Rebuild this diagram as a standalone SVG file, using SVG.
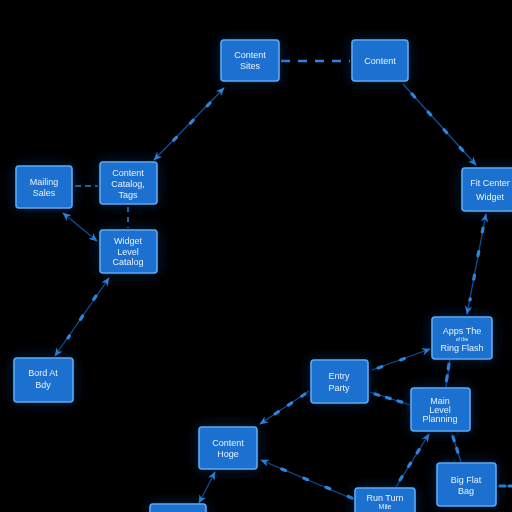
<svg xmlns="http://www.w3.org/2000/svg" width="512" height="512" viewBox="0 0 512 512">
<defs>
<filter id="glow" x="-50%" y="-50%" width="200%" height="200%">
<feGaussianBlur in="SourceAlpha" stdDeviation="7" result="b"/>
<feFlood flood-color="#0a3a80" flood-opacity="0.55"/>
<feComposite in2="b" operator="in" result="g"/>
<feMerge><feMergeNode in="g"/><feMergeNode in="SourceGraphic"/></feMerge>
</filter>
<marker id="ah" viewBox="0 0 10 10" refX="9" refY="5" markerWidth="9" markerHeight="9" markerUnits="userSpaceOnUse" orient="auto-start-reverse">
<path d="M0,1 L10,5 L0,9 L3,5 Z" fill="#2a86df"/>
</marker>
<style>
.n rect{fill:#1a6fd0;stroke:#5aaaf2;stroke-width:1.6}
.n text{fill:#eaf3ff;font-family:"Liberation Sans",Arial,sans-serif;font-size:9px;text-anchor:middle}
.n text.s{font-size:5px}
.c line.b{stroke:#0e4f96;stroke-width:1.3}
.c line.d{stroke:#2a86df;stroke-width:3.2;stroke-linecap:round;stroke-dasharray:4 20}
.c line.h{stroke:#2a86df;stroke-width:2.6;stroke-dasharray:9 8}
</style>
</defs>
<rect width="512" height="512" fill="#000"/>

<g id="connectors" class="c">
<line class="h" x1="281" y1="61" x2="350" y2="61"/>
<line class="b" x1="224" y1="88" x2="154" y2="160" marker-start="url(#ah)" marker-end="url(#ah)"/>
<line class="d" x1="210" y1="103" x2="168" y2="146"/>
<line class="b" x1="403" y1="84" x2="476" y2="165" marker-end="url(#ah)"/>
<line class="d" x1="412" y1="94" x2="465" y2="153"/>
<line class="h" x1="75" y1="186" x2="98" y2="186" style="stroke-dasharray:6 4;stroke-width:1.6"/>
<line class="h" x1="128" y1="207" x2="128" y2="228" style="stroke-dasharray:5 5;stroke-width:1.6"/>
<line class="b" x1="97" y1="241" x2="63" y2="213" marker-start="url(#ah)" marker-end="url(#ah)"/>
<line class="b" x1="109" y1="278" x2="55" y2="356" marker-start="url(#ah)" marker-end="url(#ah)"/>
<line class="d" x1="96" y1="296" x2="68" y2="338"/>
<line class="b" x1="486" y1="214" x2="467" y2="314" marker-start="url(#ah)" marker-end="url(#ah)"/>
<line class="d" x1="483" y1="228" x2="470" y2="300"/>
<line class="b" x1="372" y1="370" x2="430" y2="349" marker-end="url(#ah)"/>
<line class="d" x1="378" y1="368" x2="420" y2="353"/>
<line class="b" x1="370" y1="392" x2="410" y2="405"/>
<line class="d" x1="375" y1="394" x2="408" y2="404" style="stroke-dasharray:4 8"/>
<line class="b" x1="450" y1="360" x2="446" y2="387"/>
<line class="d" x1="449" y1="364" x2="446" y2="384" style="stroke-dasharray:5 7"/>
<line class="b" x1="309" y1="391" x2="260" y2="424" marker-end="url(#ah)"/>
<line class="d" x1="305" y1="394" x2="272" y2="416" style="stroke-dasharray:4 12"/>
<line class="b" x1="355" y1="500" x2="261" y2="460" marker-end="url(#ah)"/>
<line class="d" x1="352" y1="498" x2="272" y2="465"/>
<line class="b" x1="215" y1="472" x2="199" y2="503" marker-start="url(#ah)" marker-end="url(#ah)"/>
<line class="b" x1="396" y1="487" x2="429" y2="434" marker-end="url(#ah)"/>
<line class="d" x1="400" y1="480" x2="424" y2="442" style="stroke-dasharray:4 12"/>
<line class="b" x1="452" y1="434" x2="461" y2="462"/>
<line class="d" x1="453" y1="437" x2="460" y2="459" style="stroke-dasharray:4 8"/>
<line class="d" x1="500" y1="486" x2="512" y2="486" style="stroke-dasharray:5 4"/>
</g>

<g id="n1" class="n" filter="url(#glow)"><rect x="221" y="40" width="58" height="41" rx="3"/><text x="250" y="58">Content</text><text x="250" y="69">Sites</text></g>
<g id="n2" class="n" filter="url(#glow)"><rect x="352" y="40" width="56" height="41" rx="3"/><text x="380" y="64">Content</text></g>
<g id="n3" class="n" filter="url(#glow)"><rect x="16" y="166" width="56" height="42" rx="3"/><text x="44" y="185">Mailing</text><text x="44" y="196">Sales</text></g>
<g id="n4" class="n" filter="url(#glow)"><rect x="100" y="162" width="57" height="42" rx="3"/><text x="128" y="176">Content</text><text x="128" y="187">Catalog,</text><text x="128" y="198">Tags</text></g>
<g id="n5" class="n" filter="url(#glow)"><rect x="100" y="230" width="57" height="43" rx="3"/><text x="128" y="244">Widget</text><text x="128" y="255">Level</text><text x="128" y="265">Catalog</text></g>
<g id="n6" class="n" filter="url(#glow)"><rect x="462" y="168" width="56" height="43" rx="3"/><text x="490" y="186">Fit Center</text><text x="490" y="200">Widget</text></g>
<g id="n7" class="n" filter="url(#glow)"><rect x="432" y="317" width="60" height="42" rx="3"/><text x="462" y="334">Apps The</text><text class="s" x="462" y="341">of the</text><text x="462" y="351">Ring Flash</text></g>
<g id="n8" class="n" filter="url(#glow)"><rect x="311" y="360" width="57" height="43" rx="3"/><text x="339" y="379">Entry</text><text x="339" y="391">Party</text></g>
<g id="n9" class="n" filter="url(#glow)"><rect x="411" y="388" width="59" height="43" rx="3"/><text x="440" y="404">Main</text><text x="440" y="413">Level</text><text x="440" y="422">Planning</text></g>
<g id="n10" class="n" filter="url(#glow)"><rect x="199" y="427" width="58" height="42" rx="3"/><text x="228" y="446">Content</text><text x="228" y="457">Hoge</text></g>
<g id="n11" class="n" filter="url(#glow)"><rect x="437" y="463" width="59" height="43" rx="3"/><text x="466" y="483">Big Flat</text><text x="466" y="494">Bag</text></g>
<g id="n12" class="n" filter="url(#glow)"><rect x="355" y="488" width="60" height="40" rx="3"/><text x="385" y="501">Run Turn</text><text class="s" x="385" y="509" style="font-size:7px">Mile</text></g>
<g id="n13" class="n" filter="url(#glow)"><rect x="14" y="358" width="59" height="44" rx="3"/><text x="43" y="376">Bord At</text><text x="43" y="388">Bdy</text></g>
<g id="n14" class="n" filter="url(#glow)"><rect x="150" y="504" width="56" height="30" rx="3"/></g>
</svg>
